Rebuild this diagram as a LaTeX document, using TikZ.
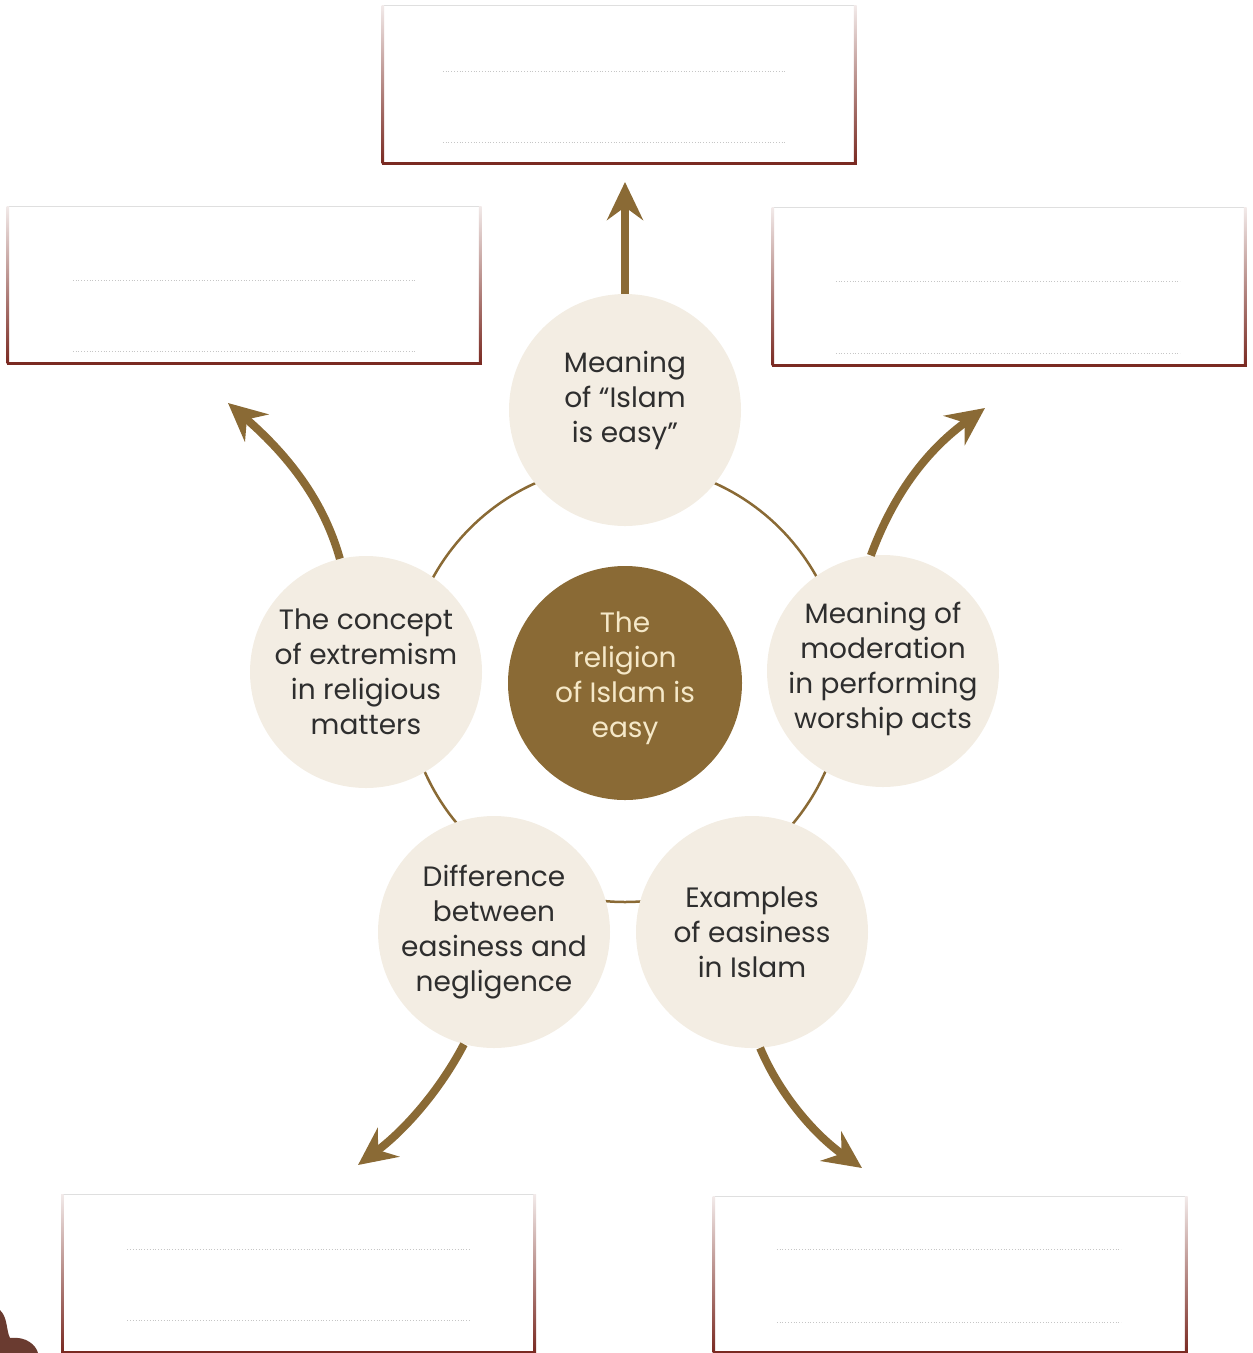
\documentclass[tikz,border=0pt]{standalone}
\usepackage{fontspec}
\setmainfont{Poppins}
\usetikzlibrary{arrows.meta}
\definecolor{gold}{HTML}{8A6A35}
\definecolor{cream}{HTML}{F3EDE3}
\definecolor{boxred}{HTML}{7A2A22}
\definecolor{txt}{HTML}{2E2E2E}
\definecolor{ctext}{HTML}{F5E8C8}
\definecolor{blob}{HTML}{6A3B30}
\begin{document}
\begin{tikzpicture}[x=1pt,y=-1pt,
 topic/.style={circle, fill=cream, minimum size=232pt, inner sep=0pt},
 hub/.style={circle, fill=gold, minimum size=234pt, inner sep=0pt},
 topictext/.style={text=txt, align=center, font=\fontsize{28}{35}\selectfont},
 hubtext/.style={text=ctext, align=center, font=\fontsize{28}{35}\selectfont},
 answer/.style={rectangle, minimum width=472pt, minimum height=157pt, inner sep=0pt, fill=white},
 ring/.style={draw=gold, line width=2.5pt},
 flow/.style={draw=gold, line width=8pt, -{Stealth[length=38pt,width=36pt,inset=13pt]}},
 writeline/.style={gray!45, line width=0.8pt, dotted},
]
\useasboundingbox (0,0) rectangle (1253,1353);

% answer boxes
\node[answer] (bt) at (619,84.5) {};
\node[answer] (bl) at (244,285) {};
\node[answer] (br) at (1009,286.5) {};
\node[answer, minimum height=157pt] (bbl) at (298.5,1273.5) {};
\node[answer, minimum height=155pt] (bbr) at (950,1274.5) {};

\foreach \b/\l/\r/\a/\c in {bt/60/70/66/21, bl/65/65/74/12, br/63/65/74/12, bbl/65/64/55/32, bbr/63/65/53/30}{
  \draw[gray!25, line width=1pt] (\b.north west) -- (\b.north east);
  \shade[top color=boxred!10, middle color=boxred!80, bottom color=boxred]
    ([xshift=-1.3pt]\b.north west) rectangle ([xshift=1.3pt]\b.south west);
  \shade[top color=boxred!10, middle color=boxred!80, bottom color=boxred]
    ([xshift=-1.3pt]\b.north east) rectangle ([xshift=1.3pt]\b.south east);
  \draw[boxred, line width=3pt] ([xshift=-1.3pt]\b.south west) -- ([xshift=1.3pt]\b.south east);
  \draw[writeline] ([xshift=\l pt,yshift=-\a pt]\b.north west) -- ([xshift=-\r pt,yshift=-\a pt]\b.north east);
  \draw[writeline] ([xshift=\l pt,yshift=\c pt]\b.south west) -- ([xshift=-\r pt,yshift=\c pt]\b.south east);
}

% ring and centre
\coordinate (hc) at (625,683);
\draw[ring] (hc) circle[radius=219pt];
\node[hub, label={[hubtext, yshift=5pt]center:The\\religion\\of Islam is\\easy}] (hub) at (hc) {};

% topic circles
\node[topic, label={[topictext, yshift=10pt]center:Meaning\\of “Islam\\is easy”}] (t1) at (625,410) {};
\node[topic, label={[topictext, yshift=2pt]center:Meaning of\\moderation\\in performing\\worship acts}] (t2) at (883,671) {};
\node[topic, label={[topictext]center:Examples\\of easiness\\in Islam}] (t3) at (752,932) {};
\node[topic, label={[topictext]center:Difference\\between\\easiness and\\negligence}] (t4) at (494,932) {};
\node[topic, label={[topictext]center:The concept\\of extremism\\in religious\\matters}] (t5) at (366,672) {};

% arrow tips
\coordinate (e1) at (625,182);
\coordinate (e2) at (985,408);
\coordinate (e3) at (862,1168);
\coordinate (e4) at (358,1165);
\coordinate (e5) at (228,403);

\draw[flow] (t1.north) -- (e1);
\draw[flow] (t2.96) .. controls (895,490) and (930,448) .. (e2);
\draw[flow] (t3.274) .. controls (780,1095) and (815,1135) .. (e3);
\draw[flow] (t4.255) .. controls (440,1090) and (405,1130) .. (e4);
\draw[flow] (t5.103) .. controls (322,495) and (282,450) .. (e5);

% corner decoration
\fill[blob] (0,1310) .. controls (8,1318) and (6,1330) .. (10,1338)
  .. controls (26,1336) and (36,1345) .. (38,1353) -- (0,1353) -- cycle;
\end{tikzpicture}
\end{document}
